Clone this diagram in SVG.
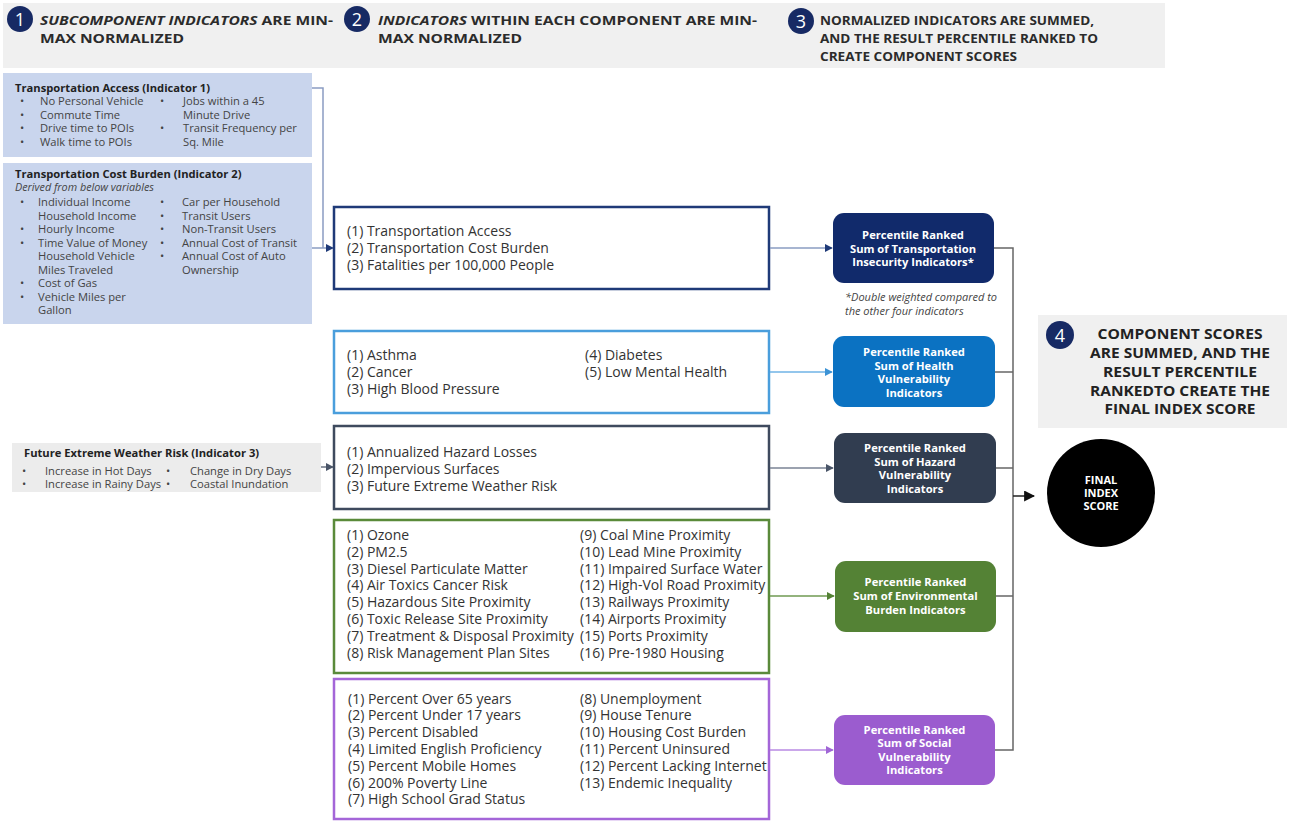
<svg xmlns="http://www.w3.org/2000/svg" width="1291" height="825" viewBox="0 0 1291 825">
<style>
text{font-family:"Open Sans","Noto Sans","Liberation Sans",sans-serif;fill:#333}
.hd{font-size:13.1px;font-weight:700;fill:#2b2b2b}
.num{font-size:18px;font-weight:400;fill:#fff;text-anchor:middle}
.st{font-size:11.2px;fill:#444}
.stb{font-size:11.2px;font-weight:700;fill:#222}
.sti{font-size:10.8px;font-style:italic;fill:#444}
.mt{font-size:14px;fill:#333}
.pt{font-size:11.2px;font-weight:700;fill:#fff;text-anchor:middle}
.note{font-size:11px;font-style:italic;fill:#444}
.s4{font-size:13.3px;font-weight:700;fill:#222;text-anchor:middle}
.fin{font-size:11px;font-weight:700;fill:#fff;text-anchor:middle}
.mb{fill:#fff;stroke-width:2.5}
.conn{fill:none;stroke-width:1.5}
</style>
<defs>
<marker id="aNavy" viewBox="0 0 10 10" refX="9" refY="5" markerWidth="8" markerHeight="8" markerUnits="userSpaceOnUse" orient="auto"><path d="M0,0L10,5L0,10z" fill="#1f3a78"/></marker>
<marker id="aBlue" viewBox="0 0 10 10" refX="9" refY="5" markerWidth="8" markerHeight="8" markerUnits="userSpaceOnUse" orient="auto"><path d="M0,0L10,5L0,10z" fill="#3c93d6"/></marker>
<marker id="aSlate" viewBox="0 0 10 10" refX="9" refY="5" markerWidth="8" markerHeight="8" markerUnits="userSpaceOnUse" orient="auto"><path d="M0,0L10,5L0,10z" fill="#4a5568"/></marker>
<marker id="aGreen" viewBox="0 0 10 10" refX="9" refY="5" markerWidth="8" markerHeight="8" markerUnits="userSpaceOnUse" orient="auto"><path d="M0,0L10,5L0,10z" fill="#548235"/></marker>
<marker id="aPurple" viewBox="0 0 10 10" refX="9" refY="5" markerWidth="8" markerHeight="8" markerUnits="userSpaceOnUse" orient="auto"><path d="M0,0L10,5L0,10z" fill="#a066d6"/></marker>
<marker id="aBlack" viewBox="0 0 10 10" refX="9" refY="5" markerWidth="11" markerHeight="11" markerUnits="userSpaceOnUse" orient="auto"><path d="M0,0L10,5L0,10z" fill="#111"/></marker>
</defs>
<rect width="1291" height="825" fill="#fff"/>

<g id="header">
<rect x="3" y="3" width="1162" height="65" fill="#f0f0f0"/>
<circle cx="20" cy="19" r="13" fill="#172a64"/><text class="num" x="20" y="25.5">1</text>
<text class="hd" x="40" y="25" textLength="293" lengthAdjust="spacingAndGlyphs"><tspan font-style="italic">SUBCOMPONENT INDICATORS</tspan> ARE MIN-</text>
<text class="hd" x="40" y="43" textLength="144" lengthAdjust="spacingAndGlyphs">MAX NORMALIZED</text>
<circle cx="357" cy="19" r="13" fill="#172a64"/><text class="num" x="357" y="25.5">2</text>
<text class="hd" x="378" y="25" textLength="379" lengthAdjust="spacingAndGlyphs"><tspan font-style="italic">INDICATORS</tspan> WITHIN EACH COMPONENT ARE MIN-</text>
<text class="hd" x="378" y="43" textLength="144" lengthAdjust="spacingAndGlyphs">MAX NORMALIZED</text>
<circle cx="801" cy="21" r="13" fill="#172a64"/><text class="num" x="801" y="27.5">3</text>
<text class="hd" x="820" y="25" textLength="274" lengthAdjust="spacingAndGlyphs">NORMALIZED INDICATORS ARE SUMMED,</text>
<text class="hd" x="820" y="43" textLength="278" lengthAdjust="spacingAndGlyphs">AND THE RESULT PERCENTILE RANKED TO</text>
<text class="hd" x="820" y="61" textLength="197" lengthAdjust="spacingAndGlyphs">CREATE COMPONENT SCORES</text>
</g>

<g id="sub-transport-access">
<rect x="3" y="73" width="309" height="84" fill="#c9d5ed"/>
<text class="stb" x="15" y="92">Transportation Access (Indicator 1)</text>
<text class="st" x="20" y="105">•</text><text class="st" x="40" y="105">No Personal Vehicle</text>
<text class="st" x="20" y="119">•</text><text class="st" x="40" y="119">Commute Time</text>
<text class="st" x="20" y="132">•</text><text class="st" x="40" y="132">Drive time to POIs</text>
<text class="st" x="20" y="146">•</text><text class="st" x="40" y="146">Walk time to POIs</text>
<text class="st" x="160" y="105">•</text><text class="st" x="183" y="105">Jobs within a 45</text>
<text class="st" x="183" y="119">Minute Drive</text>
<text class="st" x="160" y="132">•</text><text class="st" x="183" y="132">Transit Frequency per</text>
<text class="st" x="183" y="146">Sq. Mile</text>
</g>

<g id="sub-transport-cost">
<rect x="3" y="163" width="309" height="161" fill="#c9d5ed"/>
<text class="stb" x="15" y="178">Transportation Cost Burden (Indicator 2)</text>
<text class="sti" x="15" y="191">Derived from below variables</text>
<text class="st" x="20" y="206">•</text><text class="st" x="38" y="206">Individual Income</text>
<text class="st" x="38" y="219.5">Household Income</text>
<text class="st" x="20" y="233">•</text><text class="st" x="38" y="233">Hourly Income</text>
<text class="st" x="20" y="246.5">•</text><text class="st" x="38" y="246.5">Time Value of Money</text>
<text class="st" x="38" y="260">Household Vehicle</text>
<text class="st" x="38" y="273.5">Miles Traveled</text>
<text class="st" x="20" y="287">•</text><text class="st" x="38" y="287">Cost of Gas</text>
<text class="st" x="20" y="300.5">•</text><text class="st" x="38" y="300.5">Vehicle Miles per</text>
<text class="st" x="38" y="314">Gallon</text>
<text class="st" x="160" y="206">•</text><text class="st" x="182" y="206">Car per Household</text>
<text class="st" x="160" y="219.5">•</text><text class="st" x="182" y="219.5">Transit Users</text>
<text class="st" x="160" y="233">•</text><text class="st" x="182" y="233">Non-Transit Users</text>
<text class="st" x="160" y="246.5">•</text><text class="st" x="182" y="246.5">Annual Cost of Transit</text>
<text class="st" x="160" y="260">•</text><text class="st" x="182" y="260">Annual Cost of Auto</text>
<text class="st" x="182" y="273.5">Ownership</text>
</g>

<g id="sub-weather">
<rect x="12" y="443" width="309" height="49" fill="#ececec"/>
<text class="stb" x="24" y="457">Future Extreme Weather Risk (Indicator 3)</text>
<text class="st" x="22" y="475">•</text><text class="st" x="45" y="475">Increase in Hot Days</text>
<text class="st" x="22" y="488">•</text><text class="st" x="45" y="488">Increase in Rainy Days</text>
<text class="st" x="166" y="475">•</text><text class="st" x="190" y="475">Change in Dry Days</text>
<text class="st" x="166" y="488">•</text><text class="st" x="190" y="488">Coastal Inundation</text>
</g>

<g id="box-transport">
<rect class="mb" x="334" y="207" width="435" height="82" stroke="#1f3a78"/>
<text class="mt" x="347" y="236">(1) Transportation Access</text>
<text class="mt" x="347" y="253">(2) Transportation Cost Burden</text>
<text class="mt" x="347" y="270">(3) Fatalities per 100,000 People</text>
</g>

<g id="box-health">
<rect class="mb" x="334" y="331" width="435" height="82" stroke="#4a9edc"/>
<text class="mt" x="347" y="360">(1) Asthma</text>
<text class="mt" x="347" y="377">(2) Cancer</text>
<text class="mt" x="347" y="394">(3) High Blood Pressure</text>
<text class="mt" x="585" y="360">(4) Diabetes</text>
<text class="mt" x="585" y="377">(5) Low Mental Health</text>
</g>

<g id="box-hazard">
<rect class="mb" x="334" y="426" width="435" height="83" stroke="#3e4a5e"/>
<text class="mt" x="347" y="457">(1) Annualized Hazard Losses</text>
<text class="mt" x="347" y="474">(2) Impervious Surfaces</text>
<text class="mt" x="347" y="491">(3) Future Extreme Weather Risk</text>
</g>

<g id="box-environment">
<rect class="mb" x="334" y="520" width="435" height="153" stroke="#5a8a3a"/>
<text class="mt" x="347" y="540">(1) Ozone</text>
<text class="mt" x="347" y="556.8">(2) PM2.5</text>
<text class="mt" x="347" y="573.6">(3) Diesel Particulate Matter</text>
<text class="mt" x="347" y="590.4">(4) Air Toxics Cancer Risk</text>
<text class="mt" x="347" y="607.2">(5) Hazardous Site Proximity</text>
<text class="mt" x="347" y="624">(6) Toxic Release Site Proximity</text>
<text class="mt" x="347" y="640.8">(7) Treatment &amp; Disposal Proximity</text>
<text class="mt" x="347" y="657.6">(8) Risk Management Plan Sites</text>
<text class="mt" x="580" y="540">(9) Coal Mine Proximity</text>
<text class="mt" x="580" y="556.8">(10) Lead Mine Proximity</text>
<text class="mt" x="580" y="573.6">(11) Impaired Surface Water</text>
<text class="mt" x="580" y="590.4">(12) High-Vol Road Proximity</text>
<text class="mt" x="580" y="607.2">(13) Railways Proximity</text>
<text class="mt" x="580" y="624">(14) Airports Proximity</text>
<text class="mt" x="580" y="640.8">(15) Ports Proximity</text>
<text class="mt" x="580" y="657.6">(16) Pre-1980 Housing</text>
</g>

<g id="box-social">
<rect class="mb" x="334" y="679" width="435" height="140" stroke="#a466d8"/>
<text class="mt" x="348" y="703.5">(1) Percent Over 65 years</text>
<text class="mt" x="348" y="720.3">(2) Percent Under 17 years</text>
<text class="mt" x="348" y="737.1">(3) Percent Disabled</text>
<text class="mt" x="348" y="753.9">(4) Limited English Proficiency</text>
<text class="mt" x="348" y="770.7">(5) Percent Mobile Homes</text>
<text class="mt" x="348" y="787.5">(6) 200% Poverty Line</text>
<text class="mt" x="348" y="804.3">(7) High School Grad Status</text>
<text class="mt" x="580" y="703.5">(8) Unemployment</text>
<text class="mt" x="580" y="720.3">(9) House Tenure</text>
<text class="mt" x="580" y="737.1">(10) Housing Cost Burden</text>
<text class="mt" x="580" y="753.9">(11) Percent Uninsured</text>
<text class="mt" x="580" y="770.7">(12) Percent Lacking Internet</text>
<text class="mt" x="580" y="787.5">(13) Endemic Inequality</text>
</g>

<g id="pr-transport">
<rect x="833" y="213" width="161" height="70" rx="11" fill="#112a6b"/>
<text class="pt" x="913" y="238.5">Percentile Ranked</text>
<text class="pt" x="913" y="252.5">Sum of Transportation</text>
<text class="pt" x="913" y="266">Insecurity Indicators*</text>
</g>
<text class="note" x="845" y="301">*Double weighted compared to</text>
<text class="note" x="845" y="315">the other four indicators</text>

<g id="pr-health">
<rect x="833" y="336" width="162" height="71" rx="11" fill="#0b72c2"/>
<text class="pt" x="914" y="355.5">Percentile Ranked</text>
<text class="pt" x="914" y="369.5">Sum of Health</text>
<text class="pt" x="914" y="383">Vulnerability</text>
<text class="pt" x="914" y="396.5">Indicators</text>
</g>

<g id="pr-hazard">
<rect x="834" y="433" width="162" height="70" rx="11" fill="#313d50"/>
<text class="pt" x="915" y="451.5">Percentile Ranked</text>
<text class="pt" x="915" y="465.5">Sum of Hazard</text>
<text class="pt" x="915" y="479">Vulnerability</text>
<text class="pt" x="915" y="492.5">Indicators</text>
</g>

<g id="pr-environment">
<rect x="835" y="561" width="161" height="71" rx="11" fill="#548235"/>
<text class="pt" x="915.5" y="585.5">Percentile Ranked</text>
<text class="pt" x="915.5" y="599.5">Sum of Environmental</text>
<text class="pt" x="915.5" y="613.5">Burden Indicators</text>
</g>

<g id="pr-social">
<rect x="834" y="715" width="161" height="70" rx="11" fill="#9b5ccf"/>
<text class="pt" x="914.5" y="733.5">Percentile Ranked</text>
<text class="pt" x="914.5" y="747">Sum of Social</text>
<text class="pt" x="914.5" y="760.5">Vulnerability</text>
<text class="pt" x="914.5" y="774">Indicators</text>
</g>

<g id="step4">
<rect x="1038" y="315" width="249" height="113" fill="#f0f0f0"/>
<circle cx="1060" cy="335" r="14" fill="#172a64"/><text class="num" x="1060" y="341.5">4</text>
<text class="s4" x="1180" y="339" textLength="165" lengthAdjust="spacingAndGlyphs">COMPONENT SCORES</text>
<text class="s4" x="1180" y="358" textLength="180" lengthAdjust="spacingAndGlyphs">ARE SUMMED, AND THE</text>
<text class="s4" x="1180" y="377" textLength="154" lengthAdjust="spacingAndGlyphs">RESULT PERCENTILE</text>
<text class="s4" x="1180" y="395.5" textLength="180" lengthAdjust="spacingAndGlyphs">RANKEDTO CREATE THE</text>
<text class="s4" x="1180" y="414" textLength="151" lengthAdjust="spacingAndGlyphs">FINAL INDEX SCORE</text>
</g>

<g id="final">
<circle cx="1101" cy="493" r="54" fill="#000"/>
<text class="fin" x="1101" y="484">FINAL</text>
<text class="fin" x="1101" y="497">INDEX</text>
<text class="fin" x="1101" y="510">SCORE</text>
</g>

<g id="connectors">
<path class="conn" d="M312,88H323V248" stroke="#8a9cc2"/>
<path class="conn" d="M312,248H333" stroke="#8a9cc2" marker-end="url(#aNavy)"/>
<path class="conn" d="M321,467H333" stroke="#6a7383" marker-end="url(#aSlate)"/>
<path class="conn" d="M770,248H832" stroke="#8a9cc2" marker-end="url(#aNavy)"/>
<path class="conn" d="M770,372H832" stroke="#6fb3e6" marker-end="url(#aBlue)"/>
<path class="conn" d="M770,468H833" stroke="#7a8394" marker-end="url(#aSlate)"/>
<path class="conn" d="M770,596H834" stroke="#6f9a52" marker-end="url(#aGreen)"/>
<path class="conn" d="M770,750H833" stroke="#b98ae3" marker-end="url(#aPurple)"/>
<path class="conn" d="M994,248H1013V750H995" stroke="#666"/>
<path class="conn" d="M995,372H1013" stroke="#666"/>
<path class="conn" d="M996,468H1013" stroke="#666"/>
<path class="conn" d="M996,596H1013" stroke="#666"/>
<path class="conn" d="M1013,496H1034" stroke="#222" marker-end="url(#aBlack)"/>
</g>
</svg>
